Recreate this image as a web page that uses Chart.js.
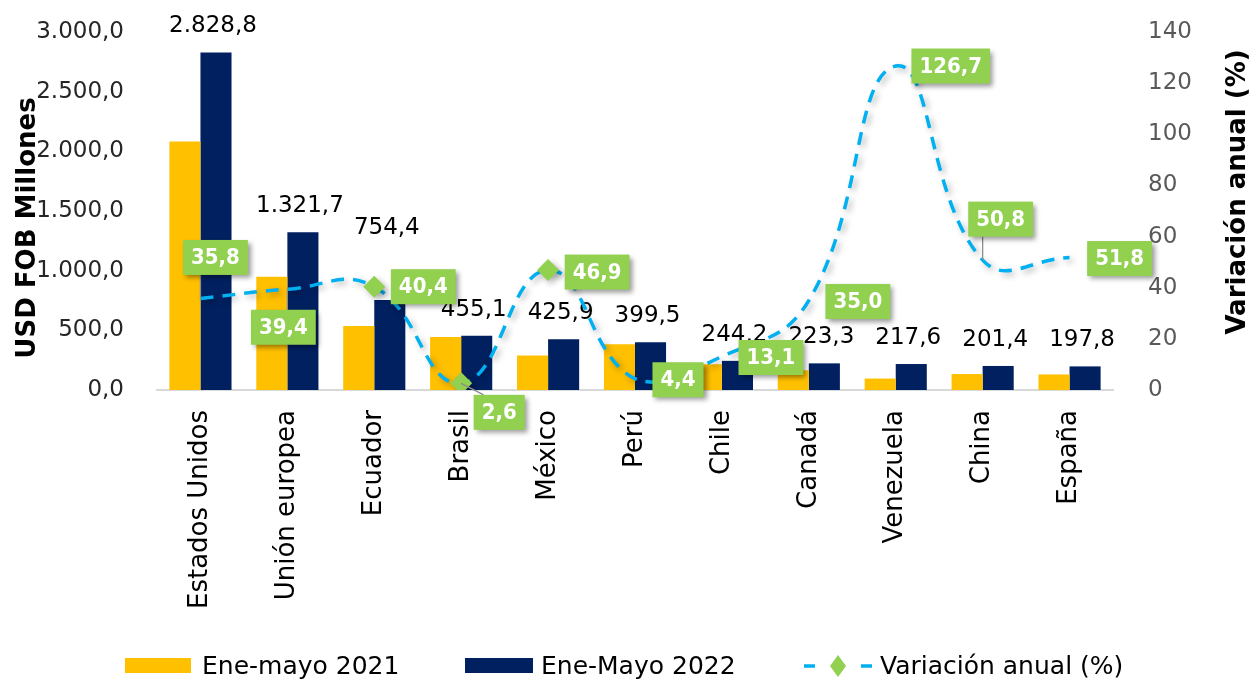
<!DOCTYPE html>
<html>
<head>
<meta charset="utf-8">
<script src="https://cdn.jsdelivr.net/npm/chart.js@4"></script>
<style>
  html, body { margin: 0; padding: 0; background: #fff; }
  canvas { display: block; }
</style>
</head>
<body>
<canvas id="chart" width="1252" height="682"></canvas>
<script>
// datos (USD FOB millones y variación %)
const categories = ['Estados Unidos', 'Unión europea', 'Ecuador', 'Brasil', 'México', 'Perú', 'Chile', 'Canadá', 'Venezuela', 'China', 'España'];
const ventas2021 = [2083.1, 948.1, 537.3, 443.6, 289.9, 382.7, 215.9, 165.4, 96.0, 133.6, 130.3];
const ventas2022 = [2828.8, 1321.7, 754.4, 455.1, 425.9, 399.5, 244.2, 223.3, 217.6, 201.4, 197.8];
const variacion = [35.8, 39.4, 40.4, 2.6, 46.9, 4.4, 13.1, 35.0, 126.7, 50.8, 51.8];
const conMarcador = ['Ecuador', 'Brasil', 'México'];
const seriesNames = ['Ene-mayo 2021', 'Ene-Mayo 2022', 'Variación anual (%)'];
const leftMax = 3000, leftStep = 500;
const rightMax = 140, rightStep = 20;

const YELLOW = '#FFC000', NAVY = '#002060', GREEN = '#92D050', CYAN = '#00B0F0';
const FONT = '"DejaVu Sans", sans-serif';
const COND = '"DejaVu Sans Condensed", "DejaVu Sans", sans-serif';

function fmt(v) {
  const parts = v.toFixed(1).split('.');
  return parts[0].replace(/\B(?=(\d{3})+(?!\d))/g, '.') + ',' + parts[1];
}

// etiquetas sobre las barras 2022
const valueLabels = {
  id: 'valueLabels',
  beforeDatasetsDraw(chart) {
    const ctx = chart.ctx;
    const meta = chart.getDatasetMeta(1);
    ctx.save();
    ctx.font = '23px ' + FONT;
    ctx.fillStyle = '#000';
    ctx.textAlign = 'center';
    ctx.textBaseline = 'middle';
    meta.data.forEach((bar, i) => {
      const lift = categories[i] === 'Ecuador' ? 72 : 26;
      ctx.fillText(fmt(ventas2022[i]), bar.x - 3, bar.y - lift);
    });
    ctx.restore();
  }
};

// sombra de la línea
const lineShadow = {
  id: 'lineShadow',
  beforeDatasetDraw(chart, args) {
    if (args.index !== 2) return;
    const ctx = chart.ctx;
    ctx.save();
    ctx.shadowColor = 'rgba(0,0,0,0.3)';
    ctx.shadowBlur = 6;
    ctx.shadowOffsetX = 3;
    ctx.shadowOffsetY = 3;
  },
  afterDatasetDraw(chart, args) {
    if (args.index === 2) chart.ctx.restore();
  }
};

// cajas verdes de variación
const boxOffsets = [[15, -41], [-4, 38], [49, 0], [38, 29], [49, 2], [43, 1], [49, 1], [49, 1], [55, 0], [18, -41], [50, 1]];
const varLabels = {
  id: 'varLabels',
  afterDatasetsDraw(chart) {
    const ctx = chart.ctx;
    const meta = chart.getDatasetMeta(2);
    ctx.save();
    ctx.font = 'bold 22px ' + COND;
    ctx.textAlign = 'center';
    ctx.textBaseline = 'middle';
    meta.data.forEach((pt, i) => {
      const text = fmt(variacion[i]);
      const w = ctx.measureText(text).width + 16, h = 35;
      const [dx, dy] = boxOffsets[i];
      const cx = pt.x + dx, cy = pt.y + dy;
      const bx = cx - w / 2, by = cy - h / 2;
      if (Math.abs(dy) > 20) {
        const nx = Math.min(Math.max(pt.x, bx + 10), bx + w - 10);
        const ny = Math.min(Math.max(pt.y, by), by + h);
        ctx.strokeStyle = '#8c8c8c';
        ctx.lineWidth = 1.3;
        ctx.beginPath();
        ctx.moveTo(pt.x, pt.y);
        ctx.lineTo(nx, ny);
        ctx.stroke();
      }
      ctx.save();
      ctx.shadowColor = 'rgba(0,0,0,0.4)';
      ctx.shadowBlur = 5;
      ctx.shadowOffsetX = 3;
      ctx.shadowOffsetY = 3;
      ctx.fillStyle = GREEN;
      ctx.fillRect(bx, by, w, h);
      ctx.restore();
      ctx.fillStyle = '#fff';
      ctx.fillText(text, cx, cy + 1);
    });
    ctx.restore();
  }
};

// títulos de ejes y leyenda
const extras = {
  id: 'extras',
  afterDraw(chart) {
    const ctx = chart.ctx;
    ctx.save();
    ctx.fillStyle = '#000';
    ctx.font = 'bold 26px ' + FONT;
    ctx.textAlign = 'center';
    ctx.textBaseline = 'middle';
    [[28, 228, 'USD FOB Millones'], [1238, 192, 'Variación anual (%)']].forEach(([x, y, t]) => {
      ctx.save();
      ctx.translate(x, y);
      ctx.rotate(-Math.PI / 2);
      ctx.fillText(t, 0, 0);
      ctx.restore();
    });

    const ds = chart.data.datasets;
    const y = 666;
    ctx.font = '25px ' + FONT;
    ctx.textAlign = 'left';
    ctx.fillStyle = ds[0].backgroundColor;
    ctx.fillRect(125, y - 8, 66, 15);
    ctx.fillStyle = ds[1].backgroundColor;
    ctx.fillRect(465, y - 8, 68, 15);
    ctx.strokeStyle = ds[2].borderColor;
    ctx.lineWidth = 3.5;
    ctx.beginPath();
    ctx.moveTo(804, y); ctx.lineTo(815, y);
    ctx.moveTo(861, y); ctx.lineTo(872, y);
    ctx.stroke();
    ctx.fillStyle = GREEN;
    ctx.beginPath();
    ctx.moveTo(838, y - 11); ctx.lineTo(846, y); ctx.lineTo(838, y + 11); ctx.lineTo(830, y);
    ctx.closePath();
    ctx.fill();
    ctx.fillStyle = '#000';
    ctx.fillText(ds[0].label, 202, y + 1);
    ctx.fillText(ds[1].label, 541, y + 1);
    ctx.fillText(ds[2].label, 880, y + 1);
    ctx.restore();
  }
};

function fixVertical(width) {
  return s => { s.width = width; s.paddingTop = 0; s.paddingBottom = 0; };
}

new Chart(document.getElementById('chart'), {
  data: {
    labels: categories,
    datasets: [
      { type: 'bar', label: seriesNames[0], data: ventas2021, backgroundColor: YELLOW, yAxisID: 'y', order: 2 },
      { type: 'bar', label: seriesNames[1], data: ventas2022, backgroundColor: NAVY, yAxisID: 'y', order: 2 },
      {
        type: 'line', label: seriesNames[2], data: variacion, yAxisID: 'y1', order: 0,
        borderColor: CYAN, borderWidth: 3.5, borderDash: [13, 9], tension: 0.45,
        pointStyle: 'rectRot', backgroundColor: GREEN, pointBorderWidth: 0,
        pointRadius: categories.map(c => conMarcador.includes(c) ? 11 : 0)
      }
    ]
  },
  options: {
    responsive: false,
    animation: false,
    devicePixelRatio: 1,
    layout: { padding: { top: 32, right: 0, left: 0, bottom: 0 } },
    datasets: { bar: { barPercentage: 1, categoryPercentage: 0.715 } },
    plugins: { legend: { display: false }, tooltip: { enabled: false } },
    scales: {
      x: {
        grid: { display: false },
        border: { color: '#D9D9D9', width: 2 },
        ticks: { color: '#000', font: { family: FONT, size: 26 }, minRotation: 90, maxRotation: 90, padding: 12 },
        afterFit(s) { s.height = 292; }
      },
      y: {
        position: 'left', min: 0, max: leftMax,
        grid: { display: false }, border: { display: false },
        ticks: { stepSize: leftStep, color: '#262626', padding: 25, font: { family: FONT, size: 23 }, callback: v => fmt(v) },
        afterFit: fixVertical(157)
      },
      y1: {
        position: 'right', min: 0, max: rightMax,
        grid: { display: false }, border: { display: false },
        ticks: { stepSize: rightStep, color: '#595959', padding: 27, font: { family: FONT, size: 23 } },
        afterFit: fixVertical(139)
      }
    }
  },
  plugins: [valueLabels, lineShadow, varLabels, extras]
});
</script>
</body>
</html>
